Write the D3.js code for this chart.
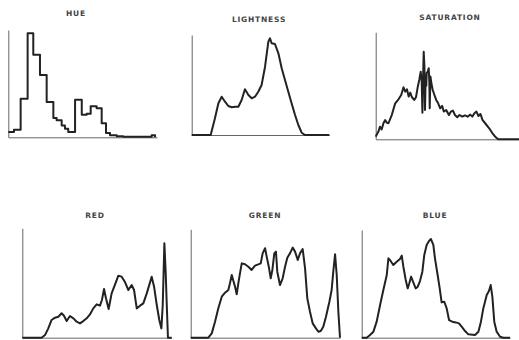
<!DOCTYPE html>
<html>
<head>
<meta charset="utf-8">
<script src="https://cdn.jsdelivr.net/npm/d3@7"></script>
<style>
  html, body { margin: 0; padding: 0; background: #fff; }
  svg { display: block; }
</style>
</head>
<body>
<div id="chart"></div>
<script>
// panel titles
const titles = ["HUE", "LIGHTNESS", "SATURATION", "RED", "GREEN", "BLUE"];

// hue histogram, stepped: [bin start %, count % of axis height]
const hue = [[0,5],[3.8,7],[8.3,36],[13,97],[16.8,77],[21.3,58],[25.8,33],[30.3,18],[32.5,16],
  [35.9,11],[38.1,8],[40.3,5],[44.9,35],[49.4,21],[52.7,22],[55.4,29],[59.4,27],[62.8,13],
  [65.7,4],[68.4,2],[72.9,1],[77.3,0.5],[96.4,2],[98.7,0]];

// the other histograms: [level %, count % of axis height]
const lightness = [[0,0],[13.8,0],[16.9,16.7],[19.4,31.7],[21.8,38.3],[24.2,33.3],[26.6,29],
  [29.1,27.7],[31.5,28.3],[33.9,28.3],[36.3,35],[38.7,45.7],[41.2,40],[43.6,36.7],[46,38.3],
  [48.4,43.3],[50.8,50],[53.3,68.3],[55.7,93.3],[56.9,96.7],[58.1,91.7],[60.5,91],[63,81.7],
  [65.4,66.7],[67.8,55],[70.2,43.3],[72.6,31.7],[75.1,20],[77.5,10],[79.9,2.3],[82.3,0],[100,0]];

const saturation = [[0,2.5],[1.9,7.2],[3,11.8],[4.2,9.3],[5.4,15],[6.6,18],[7.7,15.6],[8.9,15],
  [11.2,22.7],[13.6,33.6],[15.9,37.4],[17.8,41.4],[19.4,48.6],[20.6,44.5],[21.8,46.7],[23,39.9],
  [24.1,43.6],[25.3,39.3],[26.9,36.8],[28.1,39.3],[29.3,48.6],[30.4,55.5],[31.4,63.2],[32.1,53.9],
  [32.6,24.9],[33,54.8],[33.5,81.9],[34,67.9],[34.4,27.4],[34.9,60.1],[35.3,50],[35.6,62],
  [36.3,63.2],[37,66.4],[37.4,55],[37.7,29],[38.2,58.6],[38.9,52.3],[39.8,46.1],[41,41.4],
  [42.2,36.8],[43.6,33.6],[45,29],[46.4,31.2],[47.5,25.9],[49.2,27.4],[51.1,22.7],[52.5,25.9],
  [53.9,26.8],[55.3,22.7],[56.9,20.6],[58.5,22.7],[60.4,21.2],[62.3,22.4],[64.2,21.2],[66,23.1],
  [67.4,21.2],[68.9,24.3],[70.3,25.9],[71.7,21.8],[73.1,23.7],[74.5,18.1],[76.8,14.3],[79.2,10.3],
  [81.5,5.6],[83.8,1.9],[85.5,0],[100,0]];

const red = [[0,0],[12.9,0],[15.2,2.4],[17.4,8.5],[19.6,16.2],[21.9,18.3],[24.1,19.2],[26.3,22.3],
  [27.9,20.1],[29.7,15.2],[31.9,19.8],[34.2,17.7],[36.4,14.6],[38.6,13.1],[40.8,15.2],[43.1,17.7],
  [45.3,21.3],[47.5,26.8],[49.8,30.5],[52,29.3],[53.3,34.5],[54.7,44.5],[56,36],[57.8,26.2],
  [59.8,40.5],[62.1,48.8],[64.3,56.7],[66.5,55.8],[68.8,50.6],[71,43.6],[73.2,48.2],[74.8,43.6],
  [76.6,26.8],[78.8,29.3],[81,31.4],[83.3,40.5],[85.5,50.6],[86.6,55.8],[88.2,46.6],[90,29.9],
  [91.7,16.2],[93.1,8.5],[94,29.9],[95.1,86.3],[96,58.8],[96.7,29.9],[97.5,0],[100,0]];

const green = [[0,0],[11.8,0],[14.1,4],[16.3,14.8],[18.5,27.1],[20.8,37.8],[23,41.5],[25.2,44],
  [26.3,50.2],[27.5,57.8],[28.6,52.3],[29.7,47.1],[30.8,40],[31.9,50.2],[33,59.4],[34.2,68.6],
  [36.4,67.7],[38.6,65.5],[40.8,62.5],[43.1,66.5],[45.3,67.7],[46.9,68.6],[48.2,77.8],[49.8,82.5],
  [50.9,74.8],[52.5,64],[53.6,54.8],[54.7,62.5],[56,77.8],[57.1,79.4],[58,60.9],[59.8,48.6],
  [61.6,54.8],[63.2,65.5],[64.7,73.8],[66.5,77.8],[68.3,83.1],[69.9,79.4],[71.7,71.7],[73.2,77.8],
  [75,81.8],[76.6,64],[78.1,36.3],[79.9,24],[81.7,13.2],[83.9,8.6],[85.5,5.5],[87.1,6.2],
  [88.8,10.2],[90.6,19.4],[92.9,33.2],[94.4,44],[95.5,60.9],[96.7,76.9],[97.8,57.8],[98.9,24],[100,0]];

const blue = [[0,0],[3.4,0],[5.6,2.5],[7.9,5.6],[10.1,14.9],[12.4,30.3],[14.6,44.3],[16.9,58.2],
  [18,73.7],[19.1,72.1],[21.3,67.5],[23.6,70.6],[25.8,73.1],[27,76.2],[28.1,65.9],[29.7,53.6],
  [31,45.8],[32.1,50.5],[33.3,56.7],[34.8,51.4],[36.4,45.8],[37.8,47.4],[39.3,52.6],[40.9,61.3],
  [42.2,76.8],[43.8,86.1],[45.4,89.8],[46.7,91.6],[48.3,86.1],[49.4,73.7],[51.2,58.2],[52.6,45.8],
  [53.9,32.8],[55.7,33.4],[57.3,27.2],[58.9,16.4],[61.1,14.9],[63.4,14.2],[65.6,13.3],[67.4,10.2],
  [69.7,6.2],[71.9,3.1],[76.4,2.5],[78.7,5.6],[80.4,14.9],[82,27.2],[84.3,39.6],[85.8,43.3],
  [87,48.9],[88.1,38.1],[89.4,14.9],[91,5.6],[93.3,0.9],[95.5,0],[100,0]];

const W = 519, H = 340;

// where each panel sits on the page
const panels = [
  {x0: 8.3,   x1: 157,   yb: 137.3, yt: 30,    tx: 76,  ty: 16,  step: true, data: hue},
  {x0: 191.7, x1: 329.3, yb: 135,   yt: 35,    tx: 259, ty: 22,  data: lightness},
  {x0: 375.7, x1: 519,   yb: 139.3, yt: 32.3,  tx: 450, ty: 20,  data: saturation},
  {x0: 22.3,  x1: 171.7, yb: 337.7, yt: 228.3, tx: 95,  ty: 218, data: red},
  {x0: 190.7, x1: 340,   yb: 337.7, yt: 229.3, tx: 265, ty: 218, data: green},
  {x0: 361.7, x1: 510,   yb: 337.7, yt: 230,   tx: 435, ty: 218, data: blue}
];

const svg = d3.select("#chart").append("svg")
  .attr("width", W)
  .attr("height", H);

panels.forEach((p, i) => {
  const g = svg.append("g");

  const x = d3.scaleLinear().domain([0, 100]).range([p.x0, p.x1]);
  const y = d3.scaleLinear().domain([0, 100]).range([p.yb, p.yt]);

  // left axis (no ticks)
  g.append("g")
    .attr("transform", "translate(" + p.x0 + ",0)")
    .call(d3.axisLeft(y).ticks(0).tickSizeOuter(0))
    .select(".domain")
    .attr("stroke", "#666")
    .attr("stroke-width", 1);

  // bottom axis (no ticks)
  g.append("g")
    .attr("transform", "translate(0," + p.yb + ")")
    .call(d3.axisBottom(x).ticks(0).tickSizeOuter(0))
    .select(".domain")
    .attr("stroke", "#666")
    .attr("stroke-width", 1);

  const line = d3.line()
    .x(d => x(d[0]))
    .y(d => y(d[1]))
    .curve(p.step ? d3.curveStepAfter : d3.curveLinear);

  g.append("path")
    .datum(p.data)
    .attr("d", line)
    .attr("fill", "none")
    .attr("stroke", "#222")
    .attr("stroke-width", 2)
    .attr("stroke-linejoin", "round");

  // title
  g.append("text")
    .attr("x", p.tx)
    .attr("y", p.ty)
    .attr("text-anchor", "middle")
    .attr("font-family", "DejaVu Sans, sans-serif")
    .attr("font-size", 7.5)
    .attr("font-weight", "bold")
    .attr("letter-spacing", 0.8)
    .attr("fill", "#444")
    .text(titles[i]);
});
</script>
</body>
</html>
